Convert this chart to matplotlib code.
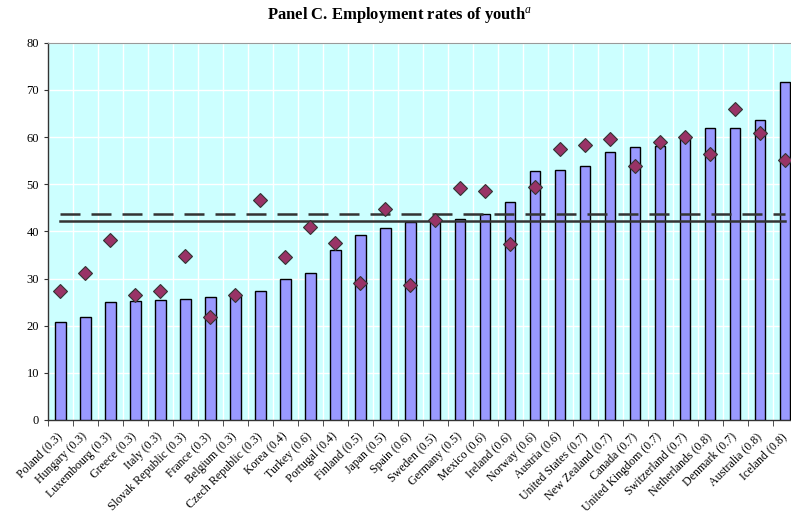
import numpy as np
import matplotlib
matplotlib.use('Agg')
import matplotlib.pyplot as plt
from matplotlib.ticker import FixedLocator

countries = ['Poland (0.3)', 'Hungary (0.3)', 'Luxembourg (0.3)', 'Greece (0.3)', 'Italy (0.3)',
             'Slovak Republic (0.3)', 'France (0.3)', 'Belgium (0.3)', 'Czech Republic (0.3)',
             'Korea (0.4)', 'Turkey (0.6)', 'Portugal (0.4)', 'Finland (0.5)', 'Japan (0.5)',
             'Spain (0.6)', 'Sweden (0.5)', 'Germany (0.5)', 'Mexico (0.6)', 'Ireland (0.6)',
             'Norway (0.6)', 'Austria (0.6)', 'United States (0.7)', 'New Zealand (0.7)',
             'Canada (0.7)', 'United Kingdom (0.7)', 'Switzerland (0.7)', 'Netherlands (0.8)',
             'Denmark (0.7)', 'Australia (0.8)', 'Iceland (0.8)']

bars = [20.8, 21.9, 25.0, 25.3, 25.4, 25.7, 26.0, 26.5, 27.3, 29.9,
        31.2, 36.0, 39.2, 40.8, 41.9, 42.5, 42.7, 43.7, 46.3, 52.9,
        53.1, 53.9, 56.9, 57.8, 58.2, 60.1, 62.0, 62.0, 63.6, 71.6]

diamonds = [27.3, 31.2, 38.2, 26.5, 27.3, 34.8, 21.9, 26.5, 46.6, 34.6,
            41.0, 37.6, 29.0, 44.8, 28.6, 42.4, 49.1, 48.6, 37.3, 49.3,
            57.4, 58.3, 59.5, 53.9, 59.0, 60.1, 56.3, 66.0, 60.8, 55.1]

avg_dashed = 43.6
avg_solid = 42.3

plt.rcParams['font.family'] = ['Liberation Serif', 'DejaVu Serif']
plt.rcParams['mathtext.fontset'] = 'custom'
plt.rcParams['mathtext.rm'] = 'Liberation Serif'
plt.rcParams['mathtext.it'] = 'Liberation Serif:italic'
plt.rcParams['mathtext.bf'] = 'Liberation Serif:bold'

fig = plt.figure(figsize=(7.91, 5.16), dpi=100)
ax = fig.add_axes([48 / 791, 96 / 516, 749.5 / 791, 377.3 / 516])
ax.set_facecolor('#CCFFFF')

x = np.arange(len(countries))
ax.bar(x, bars, width=0.42, color='#9999FF', edgecolor='black', linewidth=1.0, zorder=3)

ax.plot([x[0], x[-1]], [avg_dashed, avg_dashed], color='#333333', lw=1.8,
        dashes=(8.0, 4.4), zorder=4)
ax.plot([x[0], x[-1]], [avg_solid, avg_solid], color='#333333', lw=1.8, zorder=4)

ax.plot(x, diamonds, 'D', color='#993366', markeredgecolor='#333333',
        markeredgewidth=0.8, markersize=7, zorder=5)

ax.set_xlim(-0.5, len(countries) - 0.5)
ax.set_ylim(0, 80)
ax.set_yticks(np.arange(0, 81, 10))
ax.tick_params(axis='y', labelsize=9, length=3, direction='out', color='#333333')

ax.set_xticks(x)
ax.set_xticklabels(countries, rotation=45, ha='right', va='center',
                   rotation_mode='anchor', fontsize=8.6)
ax.xaxis.set_minor_locator(FixedLocator(np.arange(-0.5, len(countries), 1)))
ax.tick_params(axis='x', which='major', length=0, pad=10.5)
ax.tick_params(axis='x', which='minor', length=4, direction='out', color='#333333')

ax.grid(True, which='major', axis='y', color='white', lw=1.0, zorder=1)
ax.grid(True, which='minor', axis='x', color='white', lw=1.0, zorder=1)
ax.set_axisbelow(True)

for s in ['left', 'bottom']:
    ax.spines[s].set_color('#333333')
    ax.spines[s].set_linewidth(1.0)
ax.spines['top'].set_color('#999999')
ax.spines['right'].set_visible(False)

fig.text(0.505, 0.97, r'Panel C. Employment rates of youth$^{\it{a}}$', ha='center', va='center',
         fontsize=12, fontweight='bold')

fig.savefig('out.png', dpi=100)
